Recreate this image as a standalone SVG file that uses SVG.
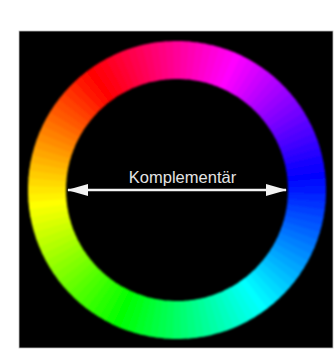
<svg xmlns="http://www.w3.org/2000/svg" xmlns:xlink="http://www.w3.org/1999/xlink" width="335" height="350" viewBox="0 0 335 350">
<style>
.lbl{font-family:"Liberation Sans",Arial,sans-serif;font-size:16.5px;fill:#e4e4e4;}
.conn{stroke:#f2f2f2;stroke-width:2.4;fill:none;}
</style>
<defs>
<path id="w" d="M149,0 A149,149 0 0 1 148.72,9.10 L110.79,6.78 A111,111 0 0 0 111,0 Z"/>
<filter id="soft" x="-5%" y="-5%" width="110%" height="110%"><feGaussianBlur stdDeviation="1.1"/></filter>
<marker id="ah" viewBox="0 0 21 12" markerUnits="userSpaceOnUse" markerWidth="21" markerHeight="12" refX="20" refY="6" orient="auto-start-reverse"><path d="M0,0 L21,6 L0,12 Z" fill="#f2f2f2"/></marker>
</defs>
<rect x="0" y="0" width="335" height="350" fill="#ffffff"/>
<g id="background"><rect x="19" y="31" width="314" height="317" fill="#000000" stroke="#bdbdbd" stroke-width="0.8"/></g>
<g id="color-wheel" filter="url(#soft)" transform="translate(177,190)">
<use xlink:href="#w" transform="rotate(-7.5)" fill="hsl(240,100%,50%)"/>
<use xlink:href="#w" transform="rotate(-4.5)" fill="hsl(237,100%,50%)"/>
<use xlink:href="#w" transform="rotate(-1.5)" fill="hsl(234,100%,50%)"/>
<use xlink:href="#w" transform="rotate(1.5)" fill="hsl(231,100%,50%)"/>
<use xlink:href="#w" transform="rotate(4.5)" fill="hsl(228,100%,50%)"/>
<use xlink:href="#w" transform="rotate(7.5)" fill="hsl(225,100%,50%)"/>
<use xlink:href="#w" transform="rotate(10.5)" fill="hsl(222,100%,50%)"/>
<use xlink:href="#w" transform="rotate(13.5)" fill="hsl(219,100%,50%)"/>
<use xlink:href="#w" transform="rotate(16.5)" fill="hsl(216,100%,50%)"/>
<use xlink:href="#w" transform="rotate(19.5)" fill="hsl(213,100%,50%)"/>
<use xlink:href="#w" transform="rotate(22.5)" fill="hsl(210,100%,50%)"/>
<use xlink:href="#w" transform="rotate(25.5)" fill="hsl(207,100%,50%)"/>
<use xlink:href="#w" transform="rotate(28.5)" fill="hsl(204,100%,50%)"/>
<use xlink:href="#w" transform="rotate(31.5)" fill="hsl(201,100%,50%)"/>
<use xlink:href="#w" transform="rotate(34.5)" fill="hsl(198,100%,50%)"/>
<use xlink:href="#w" transform="rotate(37.5)" fill="hsl(195,100%,50%)"/>
<use xlink:href="#w" transform="rotate(40.5)" fill="hsl(192,100%,50%)"/>
<use xlink:href="#w" transform="rotate(43.5)" fill="hsl(189,100%,50%)"/>
<use xlink:href="#w" transform="rotate(46.5)" fill="hsl(186,100%,50%)"/>
<use xlink:href="#w" transform="rotate(49.5)" fill="hsl(183,100%,50%)"/>
<use xlink:href="#w" transform="rotate(52.5)" fill="hsl(180,100%,50%)"/>
<use xlink:href="#w" transform="rotate(55.5)" fill="hsl(177,100%,50%)"/>
<use xlink:href="#w" transform="rotate(58.5)" fill="hsl(174,100%,50%)"/>
<use xlink:href="#w" transform="rotate(61.5)" fill="hsl(171,100%,50%)"/>
<use xlink:href="#w" transform="rotate(64.5)" fill="hsl(168,100%,50%)"/>
<use xlink:href="#w" transform="rotate(67.5)" fill="hsl(165,100%,50%)"/>
<use xlink:href="#w" transform="rotate(70.5)" fill="hsl(162,100%,50%)"/>
<use xlink:href="#w" transform="rotate(73.5)" fill="hsl(159,100%,50%)"/>
<use xlink:href="#w" transform="rotate(76.5)" fill="hsl(156,100%,50%)"/>
<use xlink:href="#w" transform="rotate(79.5)" fill="hsl(153,100%,50%)"/>
<use xlink:href="#w" transform="rotate(82.5)" fill="hsl(150,100%,50%)"/>
<use xlink:href="#w" transform="rotate(85.5)" fill="hsl(147,100%,50%)"/>
<use xlink:href="#w" transform="rotate(88.5)" fill="hsl(144,100%,50%)"/>
<use xlink:href="#w" transform="rotate(91.5)" fill="hsl(141,100%,50%)"/>
<use xlink:href="#w" transform="rotate(94.5)" fill="hsl(138,100%,50%)"/>
<use xlink:href="#w" transform="rotate(97.5)" fill="hsl(135,100%,50%)"/>
<use xlink:href="#w" transform="rotate(100.5)" fill="hsl(132,100%,50%)"/>
<use xlink:href="#w" transform="rotate(103.5)" fill="hsl(129,100%,50%)"/>
<use xlink:href="#w" transform="rotate(106.5)" fill="hsl(126,100%,50%)"/>
<use xlink:href="#w" transform="rotate(109.5)" fill="hsl(123,100%,50%)"/>
<use xlink:href="#w" transform="rotate(112.5)" fill="hsl(120,100%,50%)"/>
<use xlink:href="#w" transform="rotate(115.5)" fill="hsl(117,100%,50%)"/>
<use xlink:href="#w" transform="rotate(118.5)" fill="hsl(114,100%,50%)"/>
<use xlink:href="#w" transform="rotate(121.5)" fill="hsl(111,100%,50%)"/>
<use xlink:href="#w" transform="rotate(124.5)" fill="hsl(108,100%,50%)"/>
<use xlink:href="#w" transform="rotate(127.5)" fill="hsl(105,100%,50%)"/>
<use xlink:href="#w" transform="rotate(130.5)" fill="hsl(102,100%,50%)"/>
<use xlink:href="#w" transform="rotate(133.5)" fill="hsl(99,100%,50%)"/>
<use xlink:href="#w" transform="rotate(136.5)" fill="hsl(96,100%,50%)"/>
<use xlink:href="#w" transform="rotate(139.5)" fill="hsl(93,100%,50%)"/>
<use xlink:href="#w" transform="rotate(142.5)" fill="hsl(90,100%,50%)"/>
<use xlink:href="#w" transform="rotate(145.5)" fill="hsl(87,100%,50%)"/>
<use xlink:href="#w" transform="rotate(148.5)" fill="hsl(84,100%,50%)"/>
<use xlink:href="#w" transform="rotate(151.5)" fill="hsl(81,100%,50%)"/>
<use xlink:href="#w" transform="rotate(154.5)" fill="hsl(78,100%,50%)"/>
<use xlink:href="#w" transform="rotate(157.5)" fill="hsl(75,100%,50%)"/>
<use xlink:href="#w" transform="rotate(160.5)" fill="hsl(72,100%,50%)"/>
<use xlink:href="#w" transform="rotate(163.5)" fill="hsl(69,100%,50%)"/>
<use xlink:href="#w" transform="rotate(166.5)" fill="hsl(66,100%,50%)"/>
<use xlink:href="#w" transform="rotate(169.5)" fill="hsl(63,100%,50%)"/>
<use xlink:href="#w" transform="rotate(172.5)" fill="hsl(60,100%,50%)"/>
<use xlink:href="#w" transform="rotate(175.5)" fill="hsl(57,100%,50%)"/>
<use xlink:href="#w" transform="rotate(178.5)" fill="hsl(54,100%,50%)"/>
<use xlink:href="#w" transform="rotate(181.5)" fill="hsl(51,100%,50%)"/>
<use xlink:href="#w" transform="rotate(184.5)" fill="hsl(48,100%,50%)"/>
<use xlink:href="#w" transform="rotate(187.5)" fill="hsl(45,100%,50%)"/>
<use xlink:href="#w" transform="rotate(190.5)" fill="hsl(42,100%,50%)"/>
<use xlink:href="#w" transform="rotate(193.5)" fill="hsl(39,100%,50%)"/>
<use xlink:href="#w" transform="rotate(196.5)" fill="hsl(36,100%,50%)"/>
<use xlink:href="#w" transform="rotate(199.5)" fill="hsl(33,100%,50%)"/>
<use xlink:href="#w" transform="rotate(202.5)" fill="hsl(30,100%,50%)"/>
<use xlink:href="#w" transform="rotate(205.5)" fill="hsl(27,100%,50%)"/>
<use xlink:href="#w" transform="rotate(208.5)" fill="hsl(24,100%,50%)"/>
<use xlink:href="#w" transform="rotate(211.5)" fill="hsl(21,100%,50%)"/>
<use xlink:href="#w" transform="rotate(214.5)" fill="hsl(18,100%,50%)"/>
<use xlink:href="#w" transform="rotate(217.5)" fill="hsl(15,100%,50%)"/>
<use xlink:href="#w" transform="rotate(220.5)" fill="hsl(12,100%,50%)"/>
<use xlink:href="#w" transform="rotate(223.5)" fill="hsl(9,100%,50%)"/>
<use xlink:href="#w" transform="rotate(226.5)" fill="hsl(6,100%,50%)"/>
<use xlink:href="#w" transform="rotate(229.5)" fill="hsl(3,100%,50%)"/>
<use xlink:href="#w" transform="rotate(232.5)" fill="hsl(0,100%,50%)"/>
<use xlink:href="#w" transform="rotate(235.5)" fill="hsl(357,100%,50%)"/>
<use xlink:href="#w" transform="rotate(238.5)" fill="hsl(354,100%,50%)"/>
<use xlink:href="#w" transform="rotate(241.5)" fill="hsl(351,100%,50%)"/>
<use xlink:href="#w" transform="rotate(244.5)" fill="hsl(348,100%,50%)"/>
<use xlink:href="#w" transform="rotate(247.5)" fill="hsl(345,100%,50%)"/>
<use xlink:href="#w" transform="rotate(250.5)" fill="hsl(342,100%,50%)"/>
<use xlink:href="#w" transform="rotate(253.5)" fill="hsl(339,100%,50%)"/>
<use xlink:href="#w" transform="rotate(256.5)" fill="hsl(336,100%,50%)"/>
<use xlink:href="#w" transform="rotate(259.5)" fill="hsl(333,100%,50%)"/>
<use xlink:href="#w" transform="rotate(262.5)" fill="hsl(330,100%,50%)"/>
<use xlink:href="#w" transform="rotate(265.5)" fill="hsl(327,100%,50%)"/>
<use xlink:href="#w" transform="rotate(268.5)" fill="hsl(324,100%,50%)"/>
<use xlink:href="#w" transform="rotate(271.5)" fill="hsl(321,100%,50%)"/>
<use xlink:href="#w" transform="rotate(274.5)" fill="hsl(318,100%,50%)"/>
<use xlink:href="#w" transform="rotate(277.5)" fill="hsl(315,100%,50%)"/>
<use xlink:href="#w" transform="rotate(280.5)" fill="hsl(312,100%,50%)"/>
<use xlink:href="#w" transform="rotate(283.5)" fill="hsl(309,100%,50%)"/>
<use xlink:href="#w" transform="rotate(286.5)" fill="hsl(306,100%,50%)"/>
<use xlink:href="#w" transform="rotate(289.5)" fill="hsl(303,100%,50%)"/>
<use xlink:href="#w" transform="rotate(292.5)" fill="hsl(300,100%,50%)"/>
<use xlink:href="#w" transform="rotate(295.5)" fill="hsl(297,100%,50%)"/>
<use xlink:href="#w" transform="rotate(298.5)" fill="hsl(294,100%,50%)"/>
<use xlink:href="#w" transform="rotate(301.5)" fill="hsl(291,100%,50%)"/>
<use xlink:href="#w" transform="rotate(304.5)" fill="hsl(288,100%,50%)"/>
<use xlink:href="#w" transform="rotate(307.5)" fill="hsl(285,100%,50%)"/>
<use xlink:href="#w" transform="rotate(310.5)" fill="hsl(282,100%,50%)"/>
<use xlink:href="#w" transform="rotate(313.5)" fill="hsl(279,100%,50%)"/>
<use xlink:href="#w" transform="rotate(316.5)" fill="hsl(276,100%,50%)"/>
<use xlink:href="#w" transform="rotate(319.5)" fill="hsl(273,100%,50%)"/>
<use xlink:href="#w" transform="rotate(322.5)" fill="hsl(270,100%,50%)"/>
<use xlink:href="#w" transform="rotate(325.5)" fill="hsl(267,100%,50%)"/>
<use xlink:href="#w" transform="rotate(328.5)" fill="hsl(264,100%,50%)"/>
<use xlink:href="#w" transform="rotate(331.5)" fill="hsl(261,100%,50%)"/>
<use xlink:href="#w" transform="rotate(334.5)" fill="hsl(258,100%,50%)"/>
<use xlink:href="#w" transform="rotate(337.5)" fill="hsl(255,100%,50%)"/>
<use xlink:href="#w" transform="rotate(340.5)" fill="hsl(252,100%,50%)"/>
<use xlink:href="#w" transform="rotate(343.5)" fill="hsl(249,100%,50%)"/>
<use xlink:href="#w" transform="rotate(346.5)" fill="hsl(246,100%,50%)"/>
<use xlink:href="#w" transform="rotate(349.5)" fill="hsl(243,100%,50%)"/>
</g>
<g id="connectors">
<line class="conn" x1="68" y1="190" x2="286" y2="190" marker-start="url(#ah)" marker-end="url(#ah)"/>
</g>
<g id="label">
<text class="lbl" x="182.5" y="183" text-anchor="middle">Komplementär</text>
</g>
</svg>
